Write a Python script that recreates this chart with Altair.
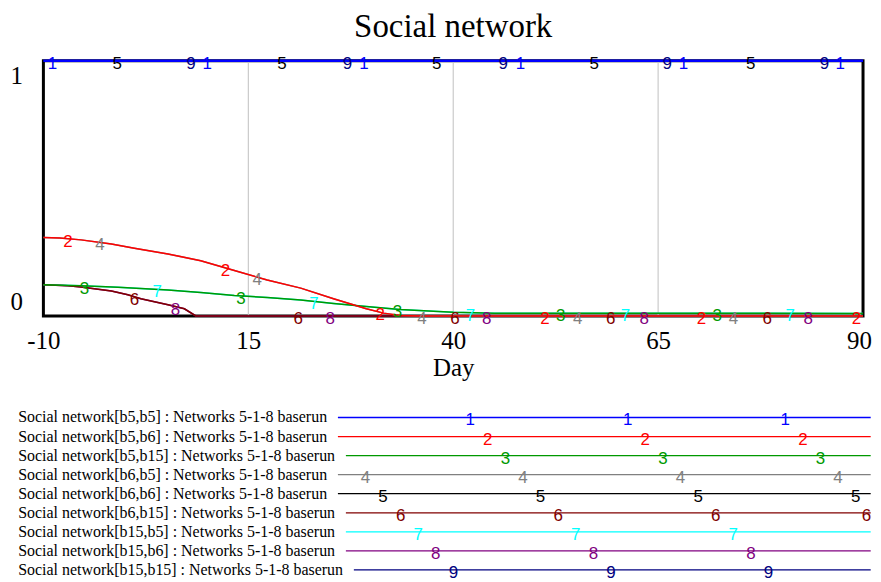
import altair as alt
import numpy as np
import pandas as pd

SERIF = "Liberation Serif"
SANS = "Liberation Sans"

# ---------------- data ----------------
series_ids = ["1", "2", "3", "4", "5", "6", "7", "8", "9"]
series_colors = ["#0000ff", "#ff0000", "#009900", "#808080", "#000000",
                 "#800000", "#00ffff", "#800080", "#000080"]
legend_labels = [
    "Social network[b5,b5] : Networks 5-1-8 baserun",
    "Social network[b5,b6] : Networks 5-1-8 baserun",
    "Social network[b5,b15] : Networks 5-1-8 baserun",
    "Social network[b6,b5] : Networks 5-1-8 baserun",
    "Social network[b6,b6] : Networks 5-1-8 baserun",
    "Social network[b6,b15] : Networks 5-1-8 baserun",
    "Social network[b15,b5] : Networks 5-1-8 baserun",
    "Social network[b15,b6] : Networks 5-1-8 baserun",
    "Social network[b15,b15] : Networks 5-1-8 baserun",
]

# curves (Day, value)
full_days = [-10, 90]
full_vals = [1.0, 1.0]

high_days = [-10, -8, -5.4, -1.7, 1.1, 5.2, 9.2, 13.3, 17.3, 21.4, 25.4, 29.4, 31.5, 33.5, 36, 90]
high_vals = [0.307, 0.305, 0.298, 0.282, 0.265, 0.243, 0.216, 0.178, 0.141, 0.109, 0.067,
             0.028, 0.011, 0.002, 0.0, 0.0]

mid_days = [-10, -5.4, -0.9, 5.2, 9.2, 13.3, 17.3, 21.4, 25.4, 29.4, 33.5, 37.6, 40, 45, 90]
mid_vals = [0.122, 0.118, 0.112, 0.102, 0.092, 0.080, 0.072, 0.062, 0.049, 0.037, 0.025,
            0.018, 0.014, 0.011, 0.010]

low_days = [-10, -7, -5.4, -1.7, 0.3, 1.9, 5.2, 7.2, 8.6, 90]
low_vals = [0.122, 0.118, 0.113, 0.098, 0.083, 0.067, 0.044, 0.028, 0.0, 0.0]

series_curve = {
    "1": (full_days, full_vals), "5": (full_days, full_vals), "9": (full_days, full_vals),
    "2": (high_days, high_vals), "4": (high_days, high_vals),
    "3": (mid_days, mid_vals), "7": (mid_days, mid_vals),
    "6": (low_days, low_vals), "8": (low_days, low_vals),
}

# Days at which each series' number marker sits on its line
label_days = {
    "1": [-8.9, 10.0, 29.1, 48.2, 68.1, 87.2],
    "2": [-7.0, 12.2, 31.1, 51.2, 70.3, 89.2],
    "3": [-5.0, 14.1, 33.2, 53.1, 72.2],
    "4": [-3.1, 16.1, 36.2, 55.2, 74.2],
    "5": [-1.0, 19.1, 38.0, 57.2, 76.3],
    "6": [1.1, 21.1, 40.2, 59.2, 78.3],
    "7": [3.9, 23.0, 42.1, 61.0, 81.1],
    "8": [6.1, 25.0, 44.1, 63.3, 83.3],
    "9": [8.0, 27.1, 46.1, 66.1, 85.3],
}

x_ticks = [-10, 15, 40, 65, 90]
y_ticks = [0, 1]

# ---------------- tables ----------------
rows = []
for s in series_ids:
    d, v = series_curve[s]
    for di, vi in zip(d, v):
        rows.append({"day": di, "value": vi, "series": s})
lines_df = pd.DataFrame(rows)

lab_rows = []
for s in series_ids:
    d, v = series_curve[s]
    for ld in label_days[s]:
        lab_rows.append({"day": ld, "value": float(np.interp(ld, d, v)), "series": s})
labels_df = pd.DataFrame(lab_rows)

grid_df = pd.DataFrame({"tick": x_ticks[1:-1]})

# ---------------- main chart ----------------
W, H = 822, 256
x_scale = alt.Scale(domain=[x_ticks[0], x_ticks[-1]], nice=False, zero=False)
y_scale = alt.Scale(domain=[0, 1], nice=False, zero=False)
color_scale = alt.Scale(domain=series_ids, range=series_colors)

x_axis = alt.Axis(values=x_ticks, title="Day", labelFont=SERIF, labelFontSize=25,
                  labelColor="black", titleFont=SERIF, titleFontSize=25,
                  titleFontWeight="normal", titleColor="black", ticks=False, tickSize=0,
                  domain=False, grid=False, labelPadding=12.5, titlePadding=2.5,
                  labelFlush=False, labelExpr="'' + datum.value",
                  labelOffset={"condition": {"test": "datum.value == 90", "value": -4},
                               "value": 0})
y_axis = alt.Axis(values=y_ticks, title=None, labelFont=SERIF, labelFontSize=25,
                  labelColor="black", ticks=False, tickSize=0, domain=False, grid=False,
                  labelPadding=21, labelBaseline="alphabetic", labelFlush=False,
                  labelExpr="'' + datum.value",
                  labelOffset={"condition": {"test": "datum.value == 1", "value": 23},
                               "value": -6.5})

grid = alt.Chart(grid_df).mark_rule(color="#c0c0c0", strokeWidth=1).encode(
    x=alt.X("tick:Q", scale=x_scale, axis=x_axis)
)

line_layers = []
for s in reversed(series_ids):
    line_layers.append(
        alt.Chart(lines_df).transform_filter(alt.datum.series == s)
        .mark_line(strokeWidth=2.5 if s == "1" else 1.5)
        .encode(
            x=alt.X("day:Q", scale=x_scale, axis=x_axis),
            y=alt.Y("value:Q", scale=y_scale, axis=y_axis),
            color=alt.Color("series:N", scale=color_scale, legend=None),
        )
    )

num_text = alt.Chart(labels_df).mark_text(font=SANS, fontSize=17, baseline="middle", dy=3).encode(
    x=alt.X("day:Q", scale=x_scale, axis=x_axis),
    y=alt.Y("value:Q", scale=y_scale, axis=y_axis),
    text="series:N",
    color=alt.Color("series:N", scale=color_scale, legend=None),
)

main = alt.layer(grid, *line_layers, num_text).properties(
    width=W, height=H,
    view=alt.ViewBackground(stroke="black", strokeWidth=3),
    title=alt.Title("Social network", font=SERIF, fontSize=33, fontWeight="normal",
                    color="black", offset=11, anchor="middle"),
)

# ---------------- legend ----------------
TIMES = {'S': 556, 'o': 500, 'c': 444, 'i': 278, 'a': 444, 'l': 278, ' ': 250, 'n': 500,
         'e': 444, 't': 278, 'w': 722, 'r': 333, 'k': 500, '[': 333, 'b': 500, '5': 500,
         ',': 250, ']': 333, ':': 278, 'N': 722, 's': 389, '-': 333, '1': 500, '8': 500,
         'u': 500, '6': 500}
LEG_FONT = 16
TEXT_X = 16.7          # page px where legend text starts
GAP = 10.5
LINE_END = 871.7
NUM_FIRST, NUM_ROW_STEP, NUM_PERIOD = 312.0, 17.65, 158.0
LEG_W = 831            # legend panel spans page px 42 .. 873
NUM_MAX = 42 + LEG_W - 5.5

starts = []
for lab in legend_labels:
    w = sum(TIMES.get(ch, 500) for ch in lab) / 1000.0 * LEG_FONT
    starts.append(TEXT_X + w + GAP)

leg_df = pd.DataFrame({"series": series_ids, "label": legend_labels,
                       "tx": [TEXT_X] * 9, "start": starts, "end": [LINE_END] * 9})

num_rows = []
for k, s in enumerate(series_ids):
    x = NUM_FIRST + NUM_ROW_STEP * k
    while x <= 880:
        if x >= starts[k] + 5:
            num_rows.append({"series": s, "x": min(x, NUM_MAX)})
        x += NUM_PERIOD
leg_num_df = pd.DataFrame(num_rows)

lx = alt.Scale(domain=[42, 42 + LEG_W], nice=False, zero=False)
ly = alt.Scale(domain=series_ids, type="point", padding=0.5)
LH = 172

leg_text = alt.Chart(leg_df).mark_text(align="left", baseline="middle", font=SERIF,
                                       fontSize=LEG_FONT, color="black").encode(
    x=alt.X("tx:Q", scale=lx, axis=None),
    y=alt.Y("series:N", scale=ly, axis=None),
    text="label:N",
)
leg_rule = alt.Chart(leg_df).mark_rule(strokeWidth=1.3).encode(
    x=alt.X("start:Q", scale=lx, axis=None),
    x2="end:Q",
    y=alt.Y("series:N", scale=ly, axis=None),
    color=alt.Color("series:N", scale=color_scale, legend=None),
)
leg_num = alt.Chart(leg_num_df).mark_text(font=SANS, fontSize=17, baseline="middle", dy=3,
                                          clip=True).encode(
    x=alt.X("x:Q", scale=lx, axis=None),
    y=alt.Y("series:N", scale=ly, axis=None),
    text="series:N",
    color=alt.Color("series:N", scale=color_scale, legend=None),
)
legend = alt.layer(leg_rule, leg_text, leg_num).properties(width=LEG_W, height=LH)

chart = alt.vconcat(main, legend, spacing=24.3).properties(
    padding={"left": 0.5, "top": 0, "right": 0, "bottom": 0}
).configure_view(stroke="transparent")

chart.save("out.html", embed_options={"renderer": "svg", "actions": False})
